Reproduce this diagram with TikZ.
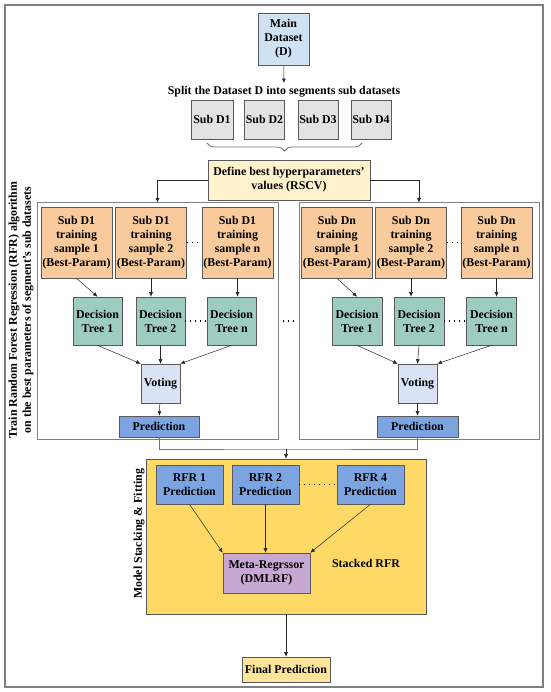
\documentclass[tikz,border=0pt]{standalone}
\usepackage{fontspec}
\setmainfont{Liberation Serif}
\usepackage{tikz}
\usetikzlibrary{positioning, arrows.meta, decorations.pathreplacing}
\usepackage{xcolor}

\definecolor{mainblue}{HTML}{CFE2F3}
\definecolor{subgray}{HTML}{E3E3E3}
\definecolor{paleyellow}{HTML}{FFF2CC}
\definecolor{sampleorange}{HTML}{F9CB9C}
\definecolor{treeteal}{HTML}{9FCCC0}
\definecolor{voteblue}{HTML}{D9E3F5}
\definecolor{predblue}{HTML}{7BA4E0}
\definecolor{stackyellow}{HTML}{FFD966}
\definecolor{metapurple}{HTML}{C7A8D3}
\definecolor{finalyellow}{HTML}{FFE599}

\begin{document}
\begin{tikzpicture}[x=1pt, y=-1pt,
  every node/.style={font=\fontsize{11.9}{14}\selectfont\bfseries},
  box/.style={draw=black!65, line width=0.6pt, align=center, inner sep=1pt},
  panel/.style={draw=black!50, line width=1pt},
  arr/.style={-{Latex[length=4.5pt,width=4pt]}, black!85, line width=0.5pt},
  link/.style={black!55, line width=1pt},
  dots/.style={line width=1.1pt, dash pattern=on 1pt off 4pt}]
\useasboundingbox (0,0) rectangle (550,692);
\draw[black!50, line width=1.5pt] (5,5) rectangle (543,687);

% Data set and split
\node[box, fill=mainblue, minimum width=51, minimum height=52] (main) at (283.5,39) {Main\\Dataset\\(D)};
\node (splitlbl) at (284,92) {Split the Dataset D into segments sub datasets};
\node[box, fill=subgray, minimum width=42, minimum height=39] (sub1) at (212,119.5) {Sub D1};
\node[box, fill=subgray, minimum width=40, minimum height=39] (sub2) at (264.5,119.5) {Sub D2};
\node[box, fill=subgray, minimum width=40, minimum height=39] (sub3) at (318,119.5) {Sub D3};
\node[box, fill=subgray, minimum width=40, minimum height=39] (sub4) at (371,119.5) {Sub D4};
\coordinate (braceL) at (207,143);
\coordinate (braceR) at (362,143);
\draw[black!55, line width=0.8pt, decorate, decoration={brace, mirror, amplitude=8pt}] (braceL) -- (braceR);
\node[box, fill=paleyellow, minimum width=162, minimum height=40] (hyper) at (289,180) {Define best hyperparameters'\\values (RSCV)};
\draw[arr] (main) -- (splitlbl);

% Panels
\node[panel, minimum width=241, minimum height=236] (lpanel) at (157.5,321) {};
\node[panel, minimum width=240, minimum height=236] (rpanel) at (419,321) {};
\draw[arr] (hyper.west) -| (lpanel.north);
\draw[arr] (hyper.east) -| (rpanel.north);
\node[rotate=90, align=center] (trainlbl) at (21,310) {Train Random Forest Regression (RFR) algorithm\\on the best parameters of segment's sub datasets};

% Left panel
\node[box, fill=sampleorange, minimum width=71, minimum height=71] (ls1) at (76.5,242.5) {Sub D1\\training\\sample 1\\(Best-Param)};
\node[box, fill=sampleorange, minimum width=71, minimum height=71] (ls2) at (151,242.5) {Sub D1\\training\\sample 2\\(Best-Param)};
\node[box, fill=sampleorange, minimum width=71, minimum height=71] (ls3) at (237.5,242.5) {Sub D1\\training\\sample n\\(Best-Param)};
\node[box, fill=treeteal, minimum width=49, minimum height=48] (lt1) at (97.5,321) {Decision\\Tree 1};
\node[box, fill=treeteal, minimum width=49, minimum height=48] (lt2) at (160.5,321) {Decision\\Tree 2};
\node[box, fill=treeteal, minimum width=49, minimum height=48] (lt3) at (231.5,321) {Decision\\Tree n};
\node[box, fill=voteblue, minimum width=39, minimum height=39] (lvote) at (160.5,383.5) {Voting};
\node[box, fill=predblue, minimum width=80, minimum height=21] (lpred) at (159,426.5) {Prediction};
\draw[arr] (ls1.south) -- (lt1.north);
\draw[arr] (ls2.south) -- (ls2.south |- lt2.north);
\draw[arr] (ls3.south) -- (ls3.south |- lt3.north);
\draw[arr] (lt1.south) -- (lvote.north west);
\draw[arr] (lt2.south) -- (lvote.north);
\draw[arr] (lt3.south) -- (lvote.north east);
\draw[arr] (lvote) -- (lpred);
\draw[dots] (ls2.east) -- (ls3.west);
\draw[dots] (lt2.east) -- (lt3.west);

% Right panel
\node[box, fill=sampleorange, minimum width=71, minimum height=71] (rs1) at (337,242.5) {Sub Dn\\training\\sample 1\\(Best-Param)};
\node[box, fill=sampleorange, minimum width=71, minimum height=71] (rs2) at (411,242.5) {Sub Dn\\training\\sample 2\\(Best-Param)};
\node[box, fill=sampleorange, minimum width=71, minimum height=71] (rs3) at (496.5,242.5) {Sub Dn\\training\\sample n\\(Best-Param)};
\node[box, fill=treeteal, minimum width=50, minimum height=48] (rt1) at (357,321) {Decision\\Tree 1};
\node[box, fill=treeteal, minimum width=50, minimum height=48] (rt2) at (419,321) {Decision\\Tree 2};
\node[box, fill=treeteal, minimum width=50, minimum height=48] (rt3) at (491.5,321) {Decision\\Tree n};
\node[box, fill=voteblue, minimum width=39, minimum height=39] (rvote) at (417.5,383.5) {Voting};
\node[box, fill=predblue, minimum width=81, minimum height=21] (rpred) at (417.5,426.5) {Prediction};
\draw[arr] (rs1.south) -- (rt1.north);
\draw[arr] (rs2.south) -- (rs2.south |- rt2.north);
\draw[arr] (rs3.south) -- (rs3.south |- rt3.north);
\draw[arr] (rt1.south) -- (rvote.north west);
\draw[arr] (rt2.south) -- (rvote.north);
\draw[arr] (rt3.south) -- (rvote.north east);
\draw[arr] (rvote) -- (rpred);
\draw[dots] (rs2.east) -- (rs3.west);
\draw[dots] (rt2.east) -- (rt3.west);
\draw[dots, shorten <=4pt, shorten >=4pt] (lpanel.east) -- (rpanel.west);

% Stacking
\node[box, fill=stackyellow, minimum width=280, minimum height=155] (stack) at (286,536.5) {};
\coordinate (join) at (286,449);
\draw[link] (lpred.south) |- (join) -| (rpred.south);
\draw[arr] (join) -- (stack.north);
\node[rotate=90] (stacklbl) at (139,534) {Model Stacking \& Fitting};
\node[box, fill=predblue, minimum width=67, minimum height=39] (rfr1) at (189.5,484.5) {RFR 1\\Prediction};
\node[box, fill=predblue, minimum width=67, minimum height=39] (rfr2) at (265.5,484.5) {RFR 2\\Prediction};
\node[box, fill=predblue, minimum width=67, minimum height=39] (rfr4) at (370.5,484.5) {RFR 4\\Prediction};
\draw[dots] (rfr2.east) -- (rfr4.west);
\node[box, fill=metapurple, minimum width=87, minimum height=40] (meta) at (266.5,573) {Meta-Regrssor\\(DMLRF)};
\node (stackname) at (366,563) {Stacked RFR};
\draw[arr] (rfr1.south) -- (meta.north west);
\draw[arr] (rfr2.south) -- (rfr2.south |- meta.north);
\draw[arr] (rfr4.south) -- (meta.north east);

% Final
\node[box, fill=finalyellow, minimum width=88, minimum height=25] (final) at (286,669.5) {Final Prediction};
\draw[arr] (stack) -- (final);
\end{tikzpicture}
\end{document}
